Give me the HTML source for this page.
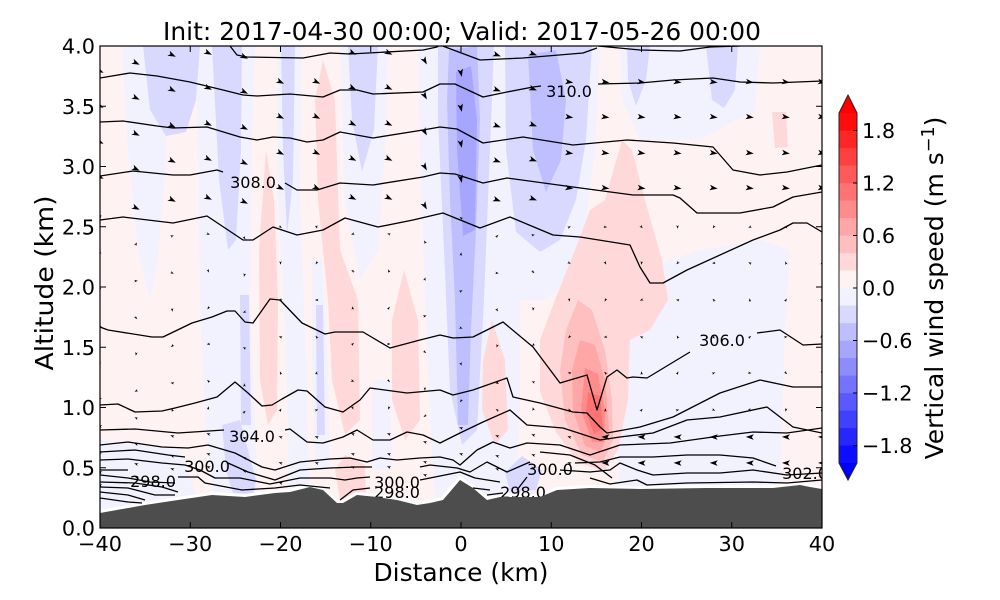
<!DOCTYPE html>
<html><head><meta charset="utf-8">
<style>
html,body{margin:0;padding:0;background:#fff;}
svg{display:block;font-family:"DejaVu Sans","Liberation Sans",sans-serif;}
</style></head>
<body>
<svg id="s" width="1000" height="600" viewBox="0 0 1000 600" xmlns="http://www.w3.org/2000/svg">
<defs><clipPath id="pc"><rect x="100" y="46" width="722" height="482"/></clipPath></defs>
<rect width="1000" height="600" fill="#fff"/>
<g clip-path="url(#pc)">
<rect x="100" y="46" width="722" height="482" fill="#fff2f2"/>
<!-- light blue -->
<g fill="#f2f2ff">
<polygon points="122,46 168,46 166,160 158,260 150,300 138,250 128,150"/>
<polygon points="195,46 255,46 252,140 250,300 255,420 258,510 215,510 205,420 200,300 198,150"/>
<polygon points="278,46 302,46 300,200 305,330 310,510 290,510 285,330 278,200"/>
<polygon points="340,46 388,46 385,150 378,250 360,280 345,200"/>
<polygon points="418,46 530,46 525,200 520,320 520,420 515,500 435,500 430,420 425,300 420,150"/>
<polygon points="500,46 600,46 595,150 585,230 570,280 545,300 520,300"/>
<polygon points="612,250 640,270 700,250 760,240 790,250 785,330 780,490 620,490 612,400"/>
<polygon points="620,46 760,46 755,110 700,140 640,140 622,100"/>
<polygon points="100,440 180,450 200,505 100,512"/>
<polygon points="312,260 322,260 328,360 330,470 315,470 312,360"/>
<polygon points="372,380 390,380 392,470 372,470"/>
</g>
<!-- blue -->
<g fill="#d9d9ff">
<polygon points="143,46 200,46 196,100 186,132 166,136 150,110"/>
<polygon points="212,46 242,46 241,150 236,240 228,250 219,180"/>
<polygon points="222,425 240,420 256,480 252,503 236,503 226,470"/>
<polygon points="281,46 295,46 293,180 287,235 283,150"/>
<polygon points="348,46 378,46 374,130 362,172 352,120"/>
<polygon points="438,46 494,46 490,150 484,300 477,430 462,445 450,390 444,250 438,120"/>
<polygon points="505,46 592,46 586,140 576,200 560,240 540,252 516,232 506,150"/>
<polygon points="706,46 738,46 735,90 724,108 712,100"/>
<polygon points="627,46 650,46 646,80 636,106 628,80"/>
<polygon points="505,472 522,456 542,470 536,490 510,492"/>
<polygon points="240,295 249,295 251,425 241,425"/>
<polygon points="316,305 323,305 325,435 317,435"/>
</g>
<polygon fill="#bfbfff" points="449,50 477,46 480,120 476,230 471,330 468,425 458,425 455,300 450,200 447,100"/>
<polygon fill="#bfbfff" points="528,55 556,50 566,100 561,160 546,192 533,150"/>
<polygon fill="#a6a6ff" points="456,72 471,66 477,120 475,230 463,236 457,150"/>
<!-- pinks -->
<g fill="#ffd9d9">
<polygon points="266,150 274,200 278,300 277,410 268,425 260,380 259,250"/>
<polygon points="323,60 335,100 340,250 358,300 360,420 345,435 332,380 328,300 318,200 315,100"/>
<polygon points="404,270 418,320 420,420 405,440 392,400 392,320"/>
<polygon points="492,320 505,360 508,430 495,445 482,410 483,360"/>
<polygon points="622,140 632,150 645,200 662,260 668,300 650,330 630,340 628,400 618,450 604,472 578,462 556,432 540,392 540,340 555,300 575,250 590,210 605,200"/>
<polygon points="772,112 786,112 788,147 775,148"/>
<polygon points="335,470 345,455 365,465 366,495 340,500"/>
</g>
<polygon fill="#ffbfbf" points="578,300 592,310 605,350 612,400 613,440 603,462 582,455 565,420 560,370 566,330"/>
<polygon fill="#ffa6a6" points="580,340 595,345 605,380 609,430 601,452 585,446 573,410 572,370"/>
<polygon fill="#ff8c8c" points="585,368 598,374 605,410 604,442 592,442 581,410"/>
<polygon fill="#ff7373" points="588,392 600,396 603,428 594,434 586,412"/>

<!-- white band above terrain -->
<polyline fill="none" stroke="#fff" stroke-width="6" points="100,513 145,505 178,500 212,495 245,497 275,493 290,492 310,487 323,490 337,503 343,503 357,495 377,497 397,500 417,505 430,503 443,500 460,480 473,488 487,500 500,497 540,497 557,490 590,488 640,489 707,488 773,488 800,485 810,487 822,489"/>

<!-- contour lines -->
<g fill="none" stroke="#000" stroke-width="1.3" stroke-linejoin="round">
<polyline points="230,46 237,55 247,57 303,58 330,53 350,54 423,50 437,47 440,45 480,60 523,58 583,53 597,48"/>
<polyline points="598,46 640,50 680,51 710,47 740,46"/>
<polyline points="100,78 130,73 157,76 190,82 223,90 243,95 257,96 290,94 323,97 340,90 357,90 373,94 423,92 440,84 455,84 483,97 507,92 533,87 541,86"/>
<polyline points="598,84 640,83 673,80 713,78 740,82 773,83 822,81"/>
<polyline points="100,122 123,121 157,126 173,128 207,127 240,137 257,140 273,137 290,138 307,142 323,140 340,132 373,138 423,130 440,127 457,129 483,143 523,137 573,145 627,140 673,143 713,147 733,170 760,175 787,172 822,165"/>
<polyline points="100,176 133,171 173,175 190,175 217,170 223,172"/>
<polyline points="285,183 297,190 317,190 340,183 373,185 423,177 440,173 455,174 483,183 507,178 573,187 633,195 673,195 680,198 697,213 740,213 773,207 793,197 822,192"/>
<polyline points="100,220 123,217 173,223 207,216 243,240 253,240 273,227 297,235 323,230 345,218 378,227 413,220 443,213 480,228 510,217 553,235 580,237 630,245 640,267 650,283 663,283 687,270 753,240 780,230 793,223 807,223 822,232"/>
<polyline points="100,327 108,330 152,337 163,337 192,323 212,317 227,311 235,311 245,322 253,323 270,299 280,300 302,323 325,334 335,332 363,332 390,348 420,340 440,335 453,338 473,337 503,322 533,347 560,383 587,375 597,410 607,377 617,370 627,378 633,377 647,378 690,352"/>
<polyline points="757,333 780,330 803,345 822,344"/>
<polyline points="100,405 118,404 135,412 162,411 175,408 195,403 217,397 235,382 248,393 262,406 272,405 282,399 298,390 307,391 325,407 343,412 360,400 370,388 407,393 440,390 453,395 473,390 507,378 513,397 540,403 573,412 587,413 600,427 607,433 640,427 673,417 720,393 760,380 793,387 822,387"/>
<polyline points="100,430 135,429 178,433 224,430"/>
<polyline points="285,430 290,429 307,442 323,443 343,437 357,430 373,440 390,440 407,432 423,435 440,443 460,433 483,422 510,410 527,425 563,428 600,440 620,437 653,433 687,420 720,417 767,407 793,427 822,433"/>
<polyline points="100,445 128,442 162,447 188,448 208,445 235,453 262,467 275,470 300,462 330,459 350,458 367,462 380,458 397,460 420,458 440,457 453,460 460,465 477,450 493,442 510,448 527,443 560,445 590,455 620,445 670,443 720,436 753,432 787,433 822,428"/>
<polyline points="100,452 135,450 168,455 185,457"/>
<polyline points="228,463 248,472 275,480 300,470 330,468 357,467 372,467"/>
<polyline points="420,467 430,465 457,468 470,472 487,462 507,472 523,465 530,462"/>
<polyline points="575,463 600,462 620,457 653,457 687,455 720,455 753,458 776,466"/>
<polyline points="100,460 128,459 162,463 185,465 200,470 215,478 240,478 270,484 300,478 330,478 345,480 357,478 370,477"/>
<polyline points="420,480 430,478 460,472 475,478 500,482"/>
<polyline points="560,470 590,472 610,470 620,463 637,470 653,475 687,473 720,473 753,470 787,475 822,473"/>
<polyline points="100,470 128,470"/>
<polyline points="178,477 198,477 205,483 242,490 275,488 300,485 330,488"/>
<polyline points="100,475 128,478 150,482 175,483"/>
<polyline points="100,482 135,483 162,487 178,492"/>
<polyline points="100,487 128,488 155,495 175,495"/>
<polyline points="100,492 128,495 145,500"/>
<polyline points="100,498 128,502 142,503"/>
<polyline points="590,478 610,484 637,480 647,485 687,483 753,482 787,483 822,480"/>
<polyline points="340,500 353,490 370,488"/>
<polyline points="473,488 490,490"/>
<polyline points="487,495 503,493"/>
<polyline points="527,477 517,490"/>
<polyline points="540,452 570,455 595,465 612,478"/>
</g>
<!-- contour labels -->
<g font-size="16" fill="#000" text-anchor="middle">
<text x="569" y="97">310.0</text>
<text x="253" y="188">308.0</text>
<text x="722" y="346">306.0</text>
<text x="252" y="442">304.0</text>
<text x="207" y="472">300.0</text>
<text x="153" y="487">298.0</text>
<text x="397" y="488">300.0</text>
<text x="397" y="498">298.0</text>
<text x="550" y="475">300.0</text>
<text x="523" y="498">298.0</text>
<text x="805" y="479">302.0</text>
</g>
<g id="arrows" fill="#000"></g>
<!-- terrain -->
<polygon fill="#4d4d4d" points="100,513 145,505 178,500 212,495 245,497 275,493 290,492 310,487 323,490 337,503 343,503 357,495 377,497 397,500 417,505 430,503 443,500 460,480 473,488 487,500 500,497 540,497 557,490 590,488 640,489 707,488 773,488 800,485 810,487 822,489 822,528 100,528"/>
</g>

<!-- frame -->
<rect x="100" y="46" width="722" height="482" fill="none" stroke="#000" stroke-width="1.2"/>
<g stroke="#000" stroke-width="1">
<path d="M100,528v-6M190.25,528v-6M280.5,528v-6M370.75,528v-6M461,528v-6M551.25,528v-6M641.5,528v-6M731.75,528v-6M822,528v-6"/>
<path d="M100,46v6M190.25,46v6M280.5,46v6M370.75,46v6M461,46v6M551.25,46v6M641.5,46v6M731.75,46v6M822,46v6"/>
<path d="M100,528h6M100,467.75h6M100,407.5h6M100,347.25h6M100,287h6M100,226.75h6M100,166.5h6M100,106.25h6M100,46h6"/>
<path d="M822,528h-6M822,467.75h-6M822,407.5h-6M822,347.25h-6M822,287h-6M822,226.75h-6M822,166.5h-6M822,106.25h-6M822,46h-6"/>
</g>
<!-- tick labels -->
<g font-size="20.8" fill="#000" text-anchor="middle">
<text x="100" y="551">−40</text>
<text x="190.25" y="551">−30</text>
<text x="280.5" y="551">−20</text>
<text x="370.75" y="551">−10</text>
<text x="461" y="551">0</text>
<text x="551.25" y="551">10</text>
<text x="641.5" y="551">20</text>
<text x="731.75" y="551">30</text>
<text x="822" y="551">40</text>
</g>
<g font-size="20.8" fill="#000" text-anchor="end">
<text x="95" y="535.5">0.0</text>
<text x="95" y="475.3">0.5</text>
<text x="95" y="415">1.0</text>
<text x="95" y="354.8">1.5</text>
<text x="95" y="294.5">2.0</text>
<text x="95" y="234.3">2.5</text>
<text x="95" y="174">3.0</text>
<text x="95" y="113.8">3.5</text>
<text x="95" y="53.5">4.0</text>
</g>
<text x="462" y="40" font-size="25" text-anchor="middle" textLength="598" lengthAdjust="spacingAndGlyphs">Init: 2017-04-30 00:00; Valid: 2017-05-26 00:00</text>
<text x="461" y="581" font-size="25" text-anchor="middle" textLength="175" lengthAdjust="spacingAndGlyphs">Distance (km)</text>
<text transform="translate(53,283) rotate(-90)" font-size="25" text-anchor="middle" textLength="175" lengthAdjust="spacingAndGlyphs">Altitude (km)</text>

<!-- colorbar -->
<g>
<rect x="839" y="445.5" width="18" height="17.6" fill="rgb(13,13,255)"/>
<rect x="839" y="428" width="18" height="17.6" fill="rgb(38,38,255)"/>
<rect x="839" y="410.5" width="18" height="17.6" fill="rgb(64,64,255)"/>
<rect x="839" y="393" width="18" height="17.6" fill="rgb(89,89,255)"/>
<rect x="839" y="375.5" width="18" height="17.6" fill="rgb(115,115,255)"/>
<rect x="839" y="358" width="18" height="17.6" fill="rgb(140,140,255)"/>
<rect x="839" y="340.5" width="18" height="17.6" fill="rgb(166,166,255)"/>
<rect x="839" y="323" width="18" height="17.6" fill="rgb(191,191,255)"/>
<rect x="839" y="305.5" width="18" height="17.6" fill="rgb(217,217,255)"/>
<rect x="839" y="288" width="18" height="17.6" fill="rgb(242,242,255)"/>
<rect x="839" y="270.5" width="18" height="17.6" fill="rgb(255,242,242)"/>
<rect x="839" y="253" width="18" height="17.6" fill="rgb(255,217,217)"/>
<rect x="839" y="235.5" width="18" height="17.6" fill="rgb(255,191,191)"/>
<rect x="839" y="218" width="18" height="17.6" fill="rgb(255,166,166)"/>
<rect x="839" y="200.5" width="18" height="17.6" fill="rgb(255,140,140)"/>
<rect x="839" y="183" width="18" height="17.6" fill="rgb(255,115,115)"/>
<rect x="839" y="165.5" width="18" height="17.6" fill="rgb(255,89,89)"/>
<rect x="839" y="148" width="18" height="17.6" fill="rgb(255,64,64)"/>
<rect x="839" y="130.5" width="18" height="17.6" fill="rgb(255,38,38)"/>
<rect x="839" y="113" width="18" height="17.6" fill="rgb(255,13,13)"/>
<polygon points="839,113.2 857,113.2 848,95" fill="#ff0000"/>
<polygon points="839,463 857,463 848,480" fill="#0000ff"/>
<polygon points="848,95 857,113 857,463 848,480 839,463 839,113" fill="none" stroke="#222" stroke-width="1"/>
<path d="M857,130.5h-4M857,183h-4M857,235.5h-4M857,288h-4M857,340.5h-4M857,393h-4M857,445.5h-4" stroke="#000" stroke-width="1"/>
</g>
<g font-size="20.8" fill="#000">
<text x="862" y="138.1">1.8</text>
<text x="862" y="190.6">1.2</text>
<text x="862" y="243.1">0.6</text>
<text x="862" y="295.6">0.0</text>
<text x="862" y="348.1">−0.6</text>
<text x="862" y="400.6">−1.2</text>
<text x="862" y="453.1">−1.8</text>
</g>
<text transform="translate(943,288) rotate(-90)" font-size="25" text-anchor="middle">Vertical wind speed (m s<tspan font-size="17.5" dy="-9">−1</tspan><tspan dy="9">)</tspan></text>
</svg>
<script>
(function(){
var T=[[100,513],[145,505],[178,500],[212,495],[245,497],[275,493],[290,492],[310,487],[323,490],[337,503],[343,503],[357,495],[377,497],[397,500],[417,505],[430,503],[443,500],[460,480],[473,488],[487,500],[500,497],[540,497],[557,490],[590,488],[640,489],[707,488],[773,488],[800,485],[810,487],[822,489]];
function ty(x){for(var i=0;i<T.length-1;i++){if(x>=T[i][0]&&x<=T[i+1][0]){var f=(x-T[i][0])/(T[i+1][0]-T[i][0]);return T[i][1]+f*(T[i+1][1]-T[i][1]);}}return 489;}
var rows=[82,117,153,188,227,263,300,337,373,410,437,463,483,496];
var offs=[-11,-19,-27,-29,-25,0,0,-29,-29,-21,-9,-27,-28,0,0,0,0,0,0,0,0];
var g=document.getElementById('arrows');var ns='http://www.w3.org/2000/svg';
for(var i=0;i<=20;i++){
  var x=100+i*36.1;
  for(var r=0;r<rows.length;r++){
    var y=rows[r]+offs[i];
    if(y<48||y>ty(x)-7)continue;
    var L,a;
    if(y<210){L=8;
      if(i<=8)a=25;else if(i==9)a=60;else if(i==10)a=78;else if(i<=12)a=20;else a=8;
    } else if(y<420){L=3.5;a=(i*37+r*53)%360;}
    else { if(x>=590){L=8;a=182;} else {L=4;a=200;} }
    var rad=a*Math.PI/180,c=Math.cos(rad),s=Math.sin(rad);
    var pts=[[L*0.5,0],[-L*0.5,L*0.35],[-L*0.25,0],[-L*0.5,-L*0.35]];
    var p=pts.map(function(q){return (x+q[0]*c-q[1]*s).toFixed(1)+','+(y+q[0]*s+q[1]*c).toFixed(1);}).join(' ');
    var e=document.createElementNS(ns,'polygon');e.setAttribute('points',p);g.appendChild(e);
  }
}
})();
</script>
</body></html>
